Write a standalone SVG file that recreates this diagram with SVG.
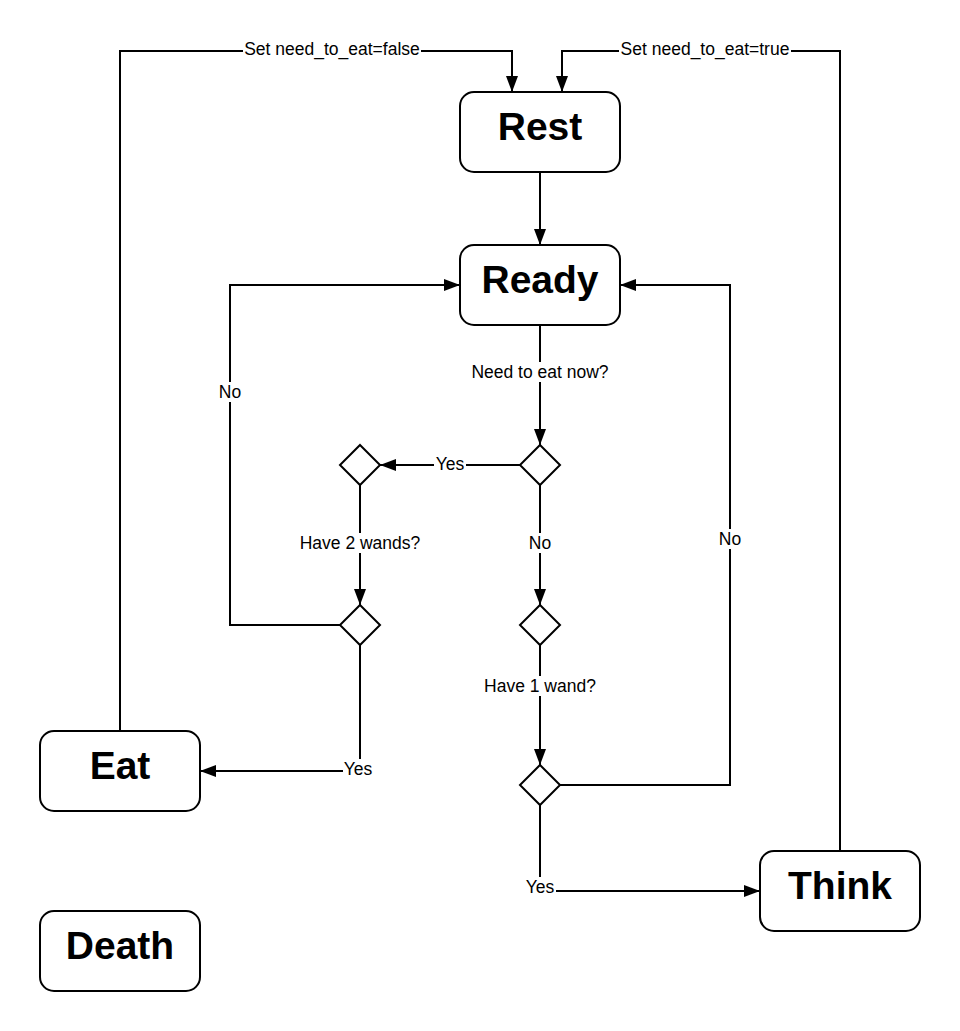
<svg xmlns="http://www.w3.org/2000/svg" width="960" height="1031" viewBox="0 0 960 1031">
<style>
.node{fill:#fff;stroke:#000;stroke-width:2}
.title{font-family:"Liberation Sans",Arial,sans-serif;font-weight:bold;font-size:39px;text-anchor:middle;fill:#000}
.edge{fill:none;stroke:#000;stroke-width:2}
.lbl{font-family:"Liberation Sans",Arial,sans-serif;font-size:17.5px;text-anchor:middle;fill:#000}
.bg{fill:#fff}
</style>
<defs>
<marker id="arr" viewBox="0 0 16 12" refX="16" refY="6" markerWidth="16" markerHeight="12" markerUnits="userSpaceOnUse" orient="auto">
<path d="M0,0 L16,6 L0,12 Z" fill="#000"/>
</marker>
</defs>
<g id="connectors">
<path class="edge" d="M120,731 V51 H512 V92" marker-end="url(#arr)"/>
<path class="edge" d="M840,851 V51 H562 V92" marker-end="url(#arr)"/>
<path class="edge" d="M540,172 V245" marker-end="url(#arr)"/>
<path class="edge" d="M540,325 V445" marker-end="url(#arr)"/>
<path class="edge" d="M520,465 H380" marker-end="url(#arr)"/>
<path class="edge" d="M540,485 V605" marker-end="url(#arr)"/>
<path class="edge" d="M360,485 V605" marker-end="url(#arr)"/>
<path class="edge" d="M340,625 H230 V285 H460" marker-end="url(#arr)"/>
<path class="edge" d="M360,645 V771 H200" marker-end="url(#arr)"/>
<path class="edge" d="M540,645 V765" marker-end="url(#arr)"/>
<path class="edge" d="M560,785 H730 V285 H620" marker-end="url(#arr)"/>
<path class="edge" d="M540,805 V891 H760" marker-end="url(#arr)"/>
<rect class="bg" x="243" y="40" width="178" height="20"/>
<text class="lbl" x="332" y="55">Set need_to_eat=false</text>
<rect class="bg" x="619" y="40" width="172" height="20"/>
<text class="lbl" x="705" y="55">Set need_to_eat=true</text>
<rect class="bg" x="470" y="362" width="140" height="20"/>
<text class="lbl" x="540" y="378">Need to eat now?</text>
<rect class="bg" x="434" y="454" width="32" height="20"/>
<text class="lbl" x="450" y="470">Yes</text>
<rect class="bg" x="528" y="533" width="24" height="20"/>
<text class="lbl" x="540" y="549">No</text>
<rect class="bg" x="297" y="533" width="126" height="20"/>
<text class="lbl" x="360" y="549">Have 2 wands?</text>
<rect class="bg" x="218" y="382" width="24" height="20"/>
<text class="lbl" x="230" y="398">No</text>
<rect class="bg" x="343" y="759" width="32" height="20"/>
<text class="lbl" x="358" y="775">Yes</text>
<rect class="bg" x="482" y="676" width="117" height="20"/>
<text class="lbl" x="540" y="692">Have 1 wand?</text>
<rect class="bg" x="718" y="529" width="24" height="20"/>
<text class="lbl" x="730" y="545">No</text>
<rect class="bg" x="524" y="877" width="32" height="20"/>
<text class="lbl" x="540" y="893">Yes</text>
</g>
<g id="rest"><rect class="node" x="460" y="92" width="160" height="80" rx="14"/><text class="title" x="540" y="140">Rest</text></g>
<g id="ready"><rect class="node" x="460" y="245" width="160" height="80" rx="14"/><text class="title" x="540" y="293">Ready</text></g>
<g id="eat"><rect class="node" x="40" y="731" width="160" height="80" rx="14"/><text class="title" x="120" y="779">Eat</text></g>
<g id="think"><rect class="node" x="760" y="851" width="160" height="80" rx="14"/><text class="title" x="840" y="899">Think</text></g>
<g id="death"><rect class="node" x="40" y="911" width="160" height="80" rx="14"/><text class="title" x="120" y="959">Death</text></g>
<g id="d1"><path class="node" d="M540,445 L560,465 L540,485 L520,465 Z"/></g>
<g id="d2"><path class="node" d="M360,445 L380,465 L360,485 L340,465 Z"/></g>
<g id="d3"><path class="node" d="M360,605 L380,625 L360,645 L340,625 Z"/></g>
<g id="d4"><path class="node" d="M540,605 L560,625 L540,645 L520,625 Z"/></g>
<g id="d5"><path class="node" d="M540,765 L560,785 L540,805 L520,785 Z"/></g>
</svg>
